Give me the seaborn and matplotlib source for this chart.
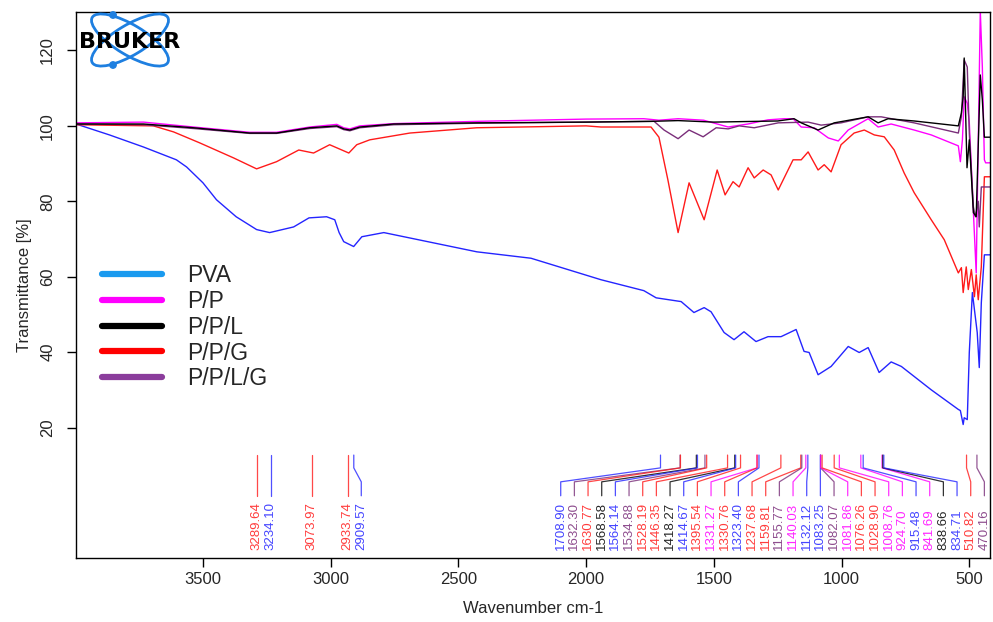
import numpy as np
import pandas as pd
import matplotlib
matplotlib.use("Agg")
import matplotlib.pyplot as plt
import seaborn as sns
from matplotlib.lines import Line2D
from matplotlib.patches import Ellipse, Circle

# ---- spectra (wavenumber cm-1, transmittance %) ----
series_names = ["PVA", "P/P", "P/P/L", "P/P/G", "P/P/L/G"]

pva_wn = [3997, 3866, 3733, 3604, 3564, 3500, 3447, 3370, 3290, 3239, 3145, 3085,
          3016, 2984, 2967, 2949, 2910, 2878, 2792, 2428, 2216, 1942, 1774, 1726,
          1628, 1578, 1538, 1511, 1460, 1421, 1382, 1335, 1288, 1237, 1178, 1147,
          1127, 1092, 1041, 974, 931, 896, 853, 806, 766, 649, 543, 535, 524, 520,
          508, 500, 488, 480, 469, 461, 453, 441, 419]
pva_t = [100.5, 97.6, 94.4, 91.0, 89.1, 84.9, 80.4, 75.9, 72.5, 71.7, 73.2, 75.6,
         75.9, 75.1, 71.7, 69.3, 68.0, 70.6, 71.7, 66.6, 64.9, 59.2, 56.3, 54.4,
         53.4, 50.5, 51.8, 50.7, 45.2, 43.3, 45.4, 42.8, 44.1, 44.1, 46.0, 40.2,
         39.9, 34.0, 36.2, 41.5, 39.9, 41.2, 34.6, 37.4, 36.2, 30.0, 24.8, 24.5,
         20.8, 22.6, 22.1, 40.0, 55.8, 51.3, 45.2, 35.9, 53.1, 65.8, 65.8]

pp_wn = [3997, 3733, 3537, 3317, 3212, 3082, 2976, 2949, 2925, 2886, 2753, 2428,
         2000, 1774, 1715, 1640, 1540, 1444, 1366, 1288, 1225, 1190, 1158, 1107,
         1052, 1013, 974, 896, 857, 806, 716, 649, 543, 535, 527, 520, 508, 500,
         488, 473, 457, 449, 441, 436, 419]
pp_t = [100.8, 101.0, 99.7, 98.3, 98.3, 99.7, 100.4, 99.5, 99.2, 100.0, 100.6, 101.2,
        101.8, 101.9, 101.5, 101.9, 101.5, 99.7, 100.5, 101.6, 101.9, 101.9, 99.7, 99.5,
        96.8, 96.0, 98.9, 101.9, 99.7, 100.5, 98.9, 97.6, 94.7, 90.5, 96.3, 107.7, 106.0,
        100.8, 83.0, 61.0, 130.5, 115.6, 91.0, 90.2, 90.2]

ppl_wn = [3997, 3733, 3537, 3317, 3212, 3082, 2976, 2949, 2925, 2886, 2753, 2428,
          2000, 1746, 1640, 1500, 1250, 1186, 1158, 1092, 1029, 896, 857, 818, 716,
          543, 531, 524, 520, 509, 500, 484, 473, 457, 449, 441, 419]
ppl_t = [100.5, 100.5, 99.5, 98.1, 98.1, 99.5, 100.0, 99.2, 98.9, 99.7, 100.5, 100.8,
         101.0, 101.2, 101.4, 101.0, 101.3, 101.9, 100.8, 98.9, 100.8, 102.4, 100.8,
         101.9, 101.3, 100.0, 103.4, 107.7, 118.0, 88.9, 96.3, 77.0, 75.9, 113.5,
         106.9, 97.0, 97.0]

ppg_wn = [3997, 3694, 3615, 3513, 3380, 3290, 3212, 3125, 3067, 3004, 2929, 2898,
          2847, 2690, 2428, 2000, 1942, 1746, 1715, 1680, 1640, 1597, 1538, 1487,
          1456, 1425, 1401, 1366, 1342, 1307, 1276, 1248, 1190, 1158, 1131, 1092,
          1068, 1041, 1002, 951, 911, 872, 833, 794, 755, 716, 649, 598, 543, 531,
          524, 512, 504, 492, 480, 473, 465, 453, 441, 419]
ppg_t = [100.3, 100.0, 98.4, 95.5, 91.5, 88.6, 90.5, 93.6, 92.8, 95.0, 92.8, 95.0,
         96.3, 98.1, 99.5, 100.0, 99.7, 99.7, 97.0, 85.7, 71.7, 84.9, 75.1, 88.3,
         81.7, 85.2, 83.8, 88.9, 86.2, 88.3, 87.0, 83.0, 91.0, 91.0, 93.1, 88.3,
         89.7, 87.8, 95.0, 98.1, 98.9, 97.6, 97.1, 93.6, 87.5, 82.3, 75.1, 69.8,
         61.0, 62.4, 55.8, 62.6, 56.6, 61.9, 54.7, 60.5, 53.9, 62.6, 86.5, 86.5]

pplg_wn = [3997, 3733, 3537, 3317, 3212, 3082, 2976, 2949, 2925, 2886, 2753, 2428,
           2000, 1734, 1695, 1640, 1597, 1542, 1491, 1444, 1401, 1342, 1248, 1131,
           1080, 1002, 896, 845, 716, 543, 531, 520, 508, 500, 484, 476, 465, 461,
           453, 419]
pplg_t = [100.5, 100.3, 99.3, 98.0, 98.0, 99.3, 99.8, 99.0, 98.7, 99.5, 100.3, 100.7,
          101.0, 101.2, 98.9, 96.6, 98.9, 97.1, 99.5, 99.2, 100.0, 99.5, 100.8, 101.0,
          100.2, 100.8, 102.4, 102.4, 100.8, 98.1, 102.4, 117.5, 115.6, 98.0, 78.5,
          75.9, 80.0, 73.2, 83.8, 83.8]

# ---- peak picks ----
peaks = [3289.64, 3234.10, 3073.97, 2933.74, 2909.57, 1708.90, 1632.30, 1630.77,
         1568.58, 1564.14, 1534.88, 1528.19, 1446.35, 1418.27, 1414.67, 1395.54,
         1331.27, 1330.76, 1323.40, 1237.68, 1159.81, 1155.77, 1140.03, 1132.12,
         1083.25, 1082.07, 1081.86, 1076.26, 1028.90, 1008.76, 924.70, 915.48,
         841.69, 838.66, 834.71, 510.82, 470.16]
peak_series = ["P/P/G", "PVA", "P/P/G", "P/P/G", "PVA", "PVA", "P/P/L/G", "P/P/G",
               "P/P/L", "PVA", "P/P/L/G", "P/P/G", "P/P/G", "P/P/L", "PVA", "P/P/G",
               "P/P", "P/P/G", "PVA", "P/P/G", "P/P/G", "P/P/L/G", "P/P", "PVA",
               "PVA", "P/P/L/G", "P/P", "P/P/G", "P/P/G", "P/P", "P/P", "PVA",
               "P/P", "P/P/L", "PVA", "P/P/G", "P/P/L/G"]

line_colors = {"PVA": "#2424ff", "P/P": "#ff00ff", "P/P/L": "#000000",
               "P/P/G": "#ff1a1a", "P/P/L/G": "#7a2e7a"}
legend_colors = {"PVA": "#1a9aef", "P/P": "#ff00ff", "P/P/L": "#000000",
                 "P/P/G": "#ff0000", "P/P/L/G": "#8b3d9c"}


def spread_labels(positions, gap, right_limit):
    # keep labels at least `gap` apart, pushed back from the right edge
    pos = list(positions)
    for i in range(1, len(pos)):
        pos[i] = min(pos[i], pos[i - 1] - gap)
    pos[-1] = max(pos[-1], right_limit)
    for i in range(len(pos) - 2, -1, -1):
        pos[i] = max(pos[i], pos[i + 1] + gap)
    return pos


frames = []
for name, wn, t in [("PVA", pva_wn, pva_t), ("P/P", pp_wn, pp_t),
                    ("P/P/L", ppl_wn, ppl_t), ("P/P/G", ppg_wn, ppg_t),
                    ("P/P/L/G", pplg_wn, pplg_t)]:
    frames.append(pd.DataFrame({"wn": wn, "T": t, "sample": name}))
df = pd.concat(frames, ignore_index=True)

sns.set_style("ticks")
plt.rcParams["font.family"] = ["Liberation Sans", "DejaVu Sans"]

fig = plt.figure(figsize=(9.93, 6.22), dpi=100)
ax = fig.add_axes([76 / 993, 64 / 622, 914 / 993, 546 / 622])

draw_order = ["PVA", "P/P/G", "P/P", "P/P/L/G", "P/P/L"]
for name in draw_order:
    sub = df[df["sample"] == name]
    sns.lineplot(data=sub, x="wn", y="T", color=line_colors[name], lw=1.0,
                 sort=False, estimator=None, ax=ax, legend=False)

# peak leader lines and labels
label_pos = spread_labels(peaks, 53.5, 441)
for p, lab, s in zip(peaks, label_pos, peak_series):
    c = line_colors[s]
    ax.plot([p, p, lab, lab], [12.7, 9.3, 5.6, 1.9], color=c, lw=0.9, alpha=0.8)
    ax.text(lab, -12.5, f"{p:.2f}", rotation=90, ha="center", va="bottom",
            fontsize=9.5, color=c, alpha=0.85)

ax.set_xlim(3997, 419)
ax.set_ylim(-14.6, 130.2)
ax.set_xticks([3500, 3000, 2500, 2000, 1500, 1000, 500])
ax.set_yticks([20, 40, 60, 80, 100, 120])
ax.set_xlabel("Wavenumber cm-1", fontsize=12, labelpad=10)
ax.set_ylabel("Transmittance [%]", fontsize=12, labelpad=6)
ax.tick_params(direction="out", length=6.5, width=1, labelsize=12, color="black")
ax.tick_params(axis="y", pad=8.5)
for lab in ax.get_yticklabels():
    lab.set_rotation(90)
    lab.set_va("center")
for sp in ax.spines.values():
    sp.set_visible(True)
    sp.set_linewidth(1.0)
    sp.set_color("black")

handles = [Line2D([0], [0], color=legend_colors[n], lw=4.5) for n in series_names]
ax.legend(handles, series_names, loc="upper left", bbox_to_anchor=(0.0284, 0.538),
          frameon=False, fontsize=16.5, handlelength=2.6, handletextpad=1.1,
          labelspacing=0.12, borderaxespad=0, borderpad=0)

# Bruker logo
logo = fig.add_axes([76 / 993, (622 - 72) / 622, 110 / 993, 64 / 622])
logo.set_xlim(0, 110)
logo.set_ylim(64, 0)
logo.axis("off")
for ang in (31, -31):
    logo.add_patch(Ellipse((54, 32), 88, 30, angle=ang, fill=False,
                           edgecolor="#1e7fe0", lw=2, clip_on=False))
for cy in (7, 57):
    logo.add_patch(Circle((37, cy), 3.2, color="#1e7fe0", clip_on=False))
logo.text(54, 34, "BRUKER", ha="center", va="center", fontsize=16,
          fontweight="heavy", family="DejaVu Sans", color="black")

fig.savefig("out.png", dpi=100)
